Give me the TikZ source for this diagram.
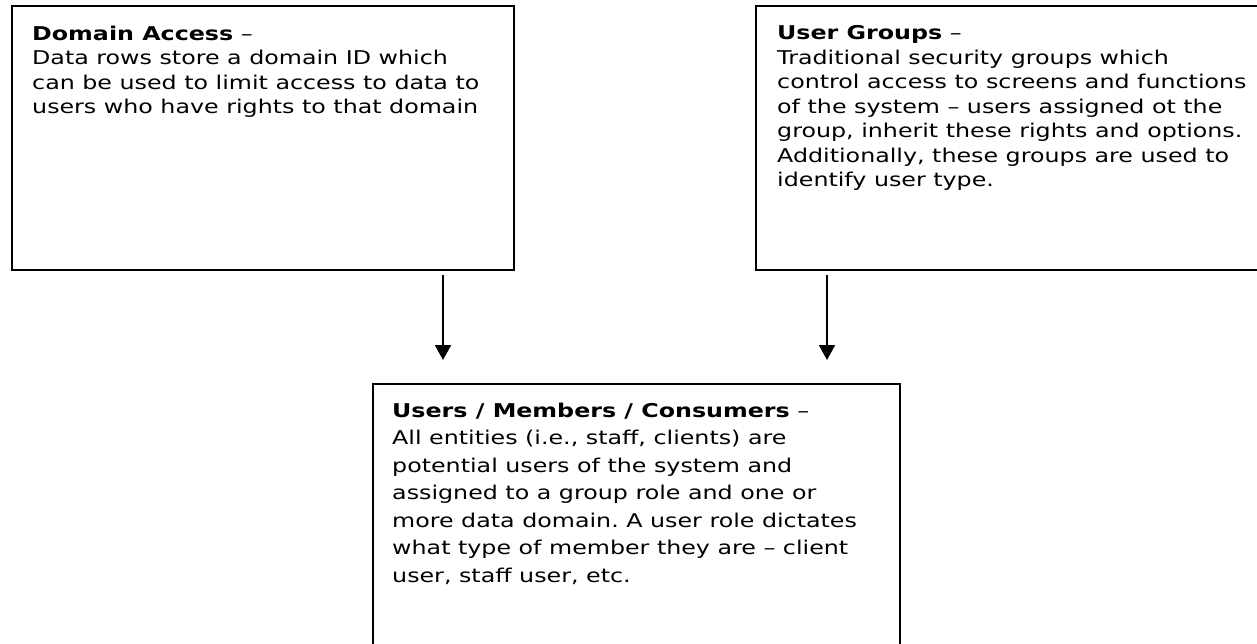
\documentclass[tikz,border=0pt]{standalone}
\usepackage{fontspec}
\setmainfont[FakeStretch=1.25]{DejaVu Sans}
\usetikzlibrary{arrows.meta}
\frenchspacing
\tikzset{
  box/.style={draw=black, line width=2pt, rectangle, inner sep=0pt, anchor=north west},
  boxtext/.style={anchor=north west, align=left, inner sep=0pt, font=\fontsize{19}{24.5}\selectfont},
  boxtextwide/.style={boxtext, font=\fontsize{19}{27.5}\selectfont},
  link/.style={line width=1.8pt, -{Triangle[width=16pt,length=15pt]}}
}
\begin{document}
\begin{tikzpicture}[x=1pt,y=-1pt]
\useasboundingbox (0,0) rectangle (1257,644);
\clip (0,0) rectangle (1257,644);
% boxes
\node[box, minimum width=502pt, minimum height=264pt] (da) at (11,5) {};
\node[box, minimum width=560pt, minimum height=264pt] (ug) at (755,5) {};
\node[box, minimum width=527pt, minimum height=300pt] (um) at (372,383) {};
% texts
\node[boxtext] (dat) at (32,25.5) {\textbf{Domain Access} --\\Data rows store a domain ID which\\can be used to limit access to data to\\users who have rights to that domain};
\node[boxtext] (ugt) at (777,25.5) {\textbf{User Groups} --\\Traditional security groups which\\control access to screens and functions\\of the system -- users assigned ot the\\group, inherit these rights and options.\\Additionally, these groups are used to\\identify user type.};
\node[boxtextwide] (umt) at (392,402.5) {\textbf{Users / Members / Consumers} --\\All entities (i.e., staff, clients) are\\potential users of the system and\\assigned to a group role and one or\\more data domain. A user role dictates\\what type of member they are -- client\\user, staff user, etc.};
% arrow ends
\coordinate (a1s) at (443,275);
\coordinate (a1e) at (443,360);
\coordinate (a2s) at (827,275);
\coordinate (a2e) at (827,360);
\draw[link] (a1s) -- (a1e);
\draw[link] (a2s) -- (a2e);
\end{tikzpicture}
\end{document}
